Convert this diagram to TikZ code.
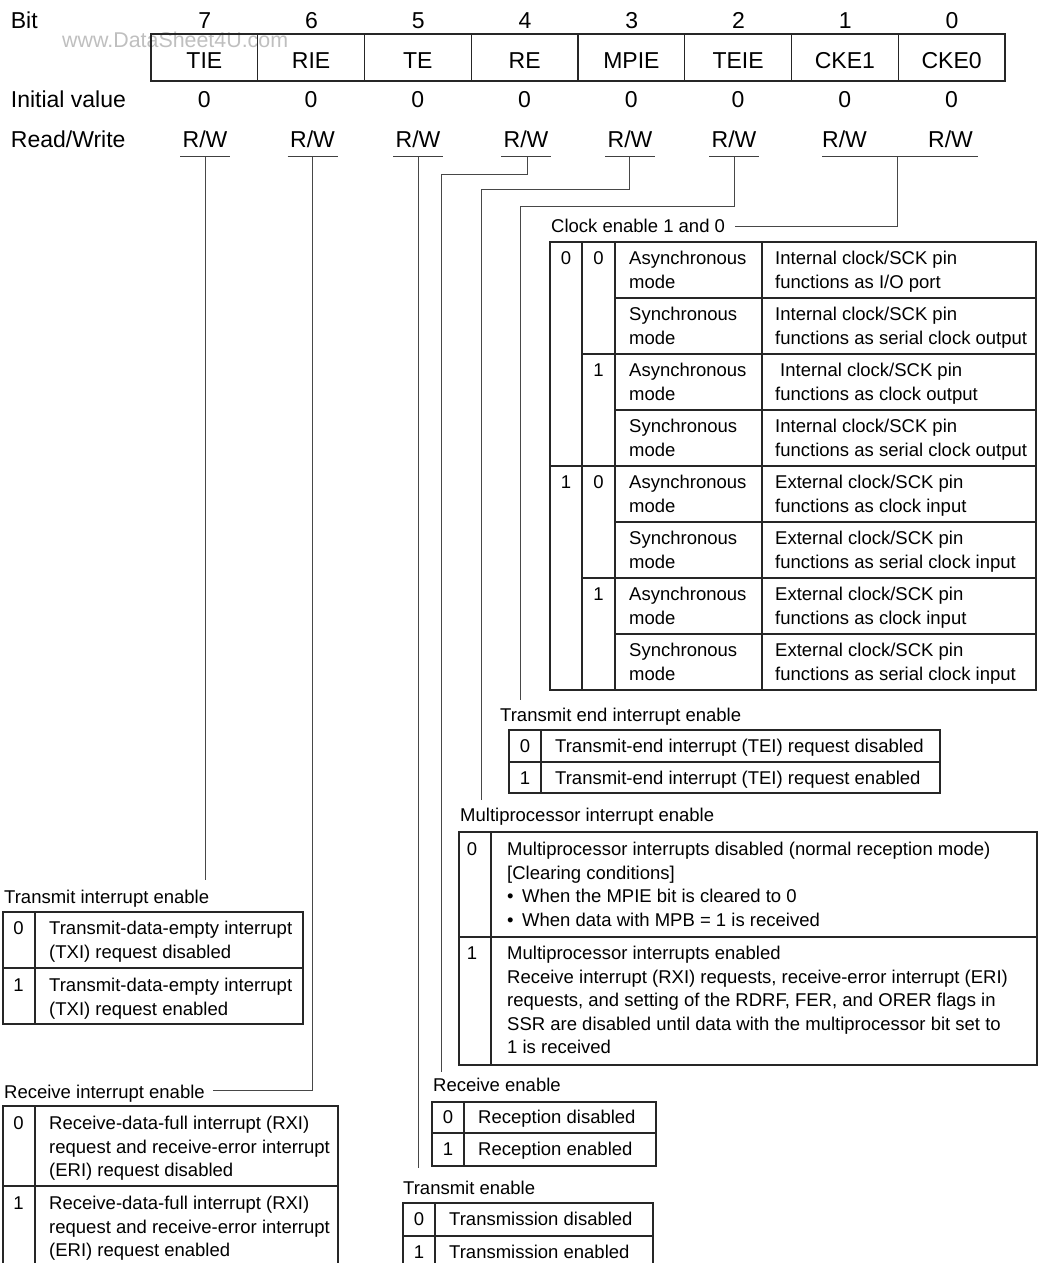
\documentclass[tikz,border=0pt]{standalone}
\usepackage{fontspec}
\setmainfont{Liberation Sans}
\newcommand\myst{\rule{0pt}{16pt}}
\newcommand\mybul{\makebox[15pt][l]{\textbullet}}
\begin{document}
\begin{tikzpicture}[x=1pt,y=-1pt,
  hdr/.style={inner sep=0pt, anchor=base, font=\fontsize{23}{27}\selectfont},
  hdrl/.style={inner sep=0pt, anchor=base west, font=\fontsize{23}{27}\selectfont},
  fieldbox/.style={draw=black!85, line width=1.1pt, minimum width=106.75pt, minimum height=47pt, inner sep=0pt},
  ttl/.style={inner sep=0pt, anchor=base west, font=\fontsize{18.5}{23.5}\selectfont},
  cell/.style={inner sep=0pt, anchor=north west, align=left, font=\fontsize{18.5}{23.5}\selectfont},
  dig/.style={inner sep=0pt, anchor=north, font=\fontsize{18.5}{23.5}\selectfont},
  tab/.style={draw=black!85, line width=1.1pt},
  ul/.style={draw=black!75, line width=1pt},
  conn/.style={draw=black!72, line width=1pt},
]
\useasboundingbox (0,0) rectangle (1044,1263);

% watermark
\node[inner sep=0pt, anchor=base west, font=\fontsize{21.4}{24}\selectfont, text=black!25] (wm) at (62,47.7) {www.DataSheet4U.com};

% register header
\node[hdrl] (bitl) at (10.7,28.2) {Bit};
\node[hdrl] (initl) at (10.7,107.2) {Initial value};
\node[hdrl] (rwl) at (10.7,147.2) {Read/Write};
\foreach \k/\nm in {7/TIE,6/RIE,5/TE,4/RE,3/MPIE,2/TEIE,1/CKE1,0/CKE0} {
  \pgfmathsetmacro\cx{151+106.75*(7-\k)+53.375}
  \node[fieldbox] (f\k) at (\cx,57.5) {};
  \node[hdr] (n\k) at (\cx,68.2) {\nm};
  \node[hdr] (b\k) at (\cx+0.5,28.2) {\k};
  \node[hdr] (i\k) at (\cx,107.2) {0};
}
\foreach \k/\cx in {7/205,6/312.5,5/418,4/526,3/630,2/734,1/844.5,0/950.5}
  \node[hdr] (rw\k) at (\cx,147.2) {R/W};
\foreach \cx in {205,312.5,418,526,630,734}
  \draw[ul] (\cx-25,156) -- (\cx+25,156);
\draw[ul] (822,156) -- (978,156);

% connectors
\coordinate (c7) at (205,156.5);  \coordinate (e7) at (205,880);
\coordinate (c6) at (312.5,156.5); \coordinate (e6) at (213,1090);
\coordinate (c5) at (418,156.5);  \coordinate (e5) at (418,1168);
\coordinate (c4) at (527,156.5);  \coordinate (e4) at (441,1072);
\coordinate (c3) at (629.5,156.5); \coordinate (e3) at (481,800);
\coordinate (c2) at (734,156.5);  \coordinate (e2) at (520,700);
\coordinate (c10) at (897,156.5); \coordinate (e10) at (735,226);
\draw[conn] (c7) -- (e7);
\draw[conn] (c6) |- (e6);
\draw[conn] (c5) -- (e5);
\draw[conn] (c4) -- ++(0,18) -| (e4);
\draw[conn] (c3) -- ++(0,32.5) -| (e3);
\draw[conn] (c2) -- ++(0,49.5) -| (e2);
\draw[conn] (c10) |- (e10);

% ---- Clock enable table ----
\node[ttl] (cketl) at (551,232.6) {Clock enable 1 and 0};
\draw[tab] (550,242) rectangle (1036,690);
\draw[tab] (582,242) -- (582,690) (615,242) -- (615,690) (762,242) -- (762,690);
\draw[tab] (550,466) -- (1036,466);
\draw[tab] (582,354) -- (1036,354) (582,578) -- (1036,578);
\foreach \yy in {298,410,522,634} \draw[tab] (615,\yy) -- (1036,\yy);
\node[dig] (ckd1a) at (566,248.6) {\myst 0};
\node[dig] (ckd1b) at (566,472.6) {\myst 1};
\node[dig] (ckd0a) at (598.5,248.6) {\myst 0};
\node[dig] (ckd0b) at (598.5,360.6) {\myst 1};
\node[dig] (ckd0c) at (598.5,472.6) {\myst 0};
\node[dig] (ckd0d) at (598.5,584.6) {\myst 1};
\node[cell] (ckm0) at (629,248.6) {\myst Asynchronous\\mode};
\node[cell] (ckm1) at (629,304.6) {\myst Synchronous\\mode};
\node[cell] (ckm2) at (629,360.6) {\myst Asynchronous\\mode};
\node[cell] (ckm3) at (629,416.6) {\myst Synchronous\\mode};
\node[cell] (ckm4) at (629,472.6) {\myst Asynchronous\\mode};
\node[cell] (ckm5) at (629,528.6) {\myst Synchronous\\mode};
\node[cell] (ckm6) at (629,584.6) {\myst Asynchronous\\mode};
\node[cell] (ckm7) at (629,640.6) {\myst Synchronous\\mode};
\node[cell] (ckf0) at (775,248.6) {\myst Internal clock/SCK pin\\functions as I/O port};
\node[cell] (ckf1) at (775,304.6) {\myst Internal clock/SCK pin\\functions as serial clock output};
\node[cell] (ckf2) at (775,360.6) {\myst\hspace*{5pt}Internal clock/SCK pin\\functions as clock output};
\node[cell] (ckf3) at (775,416.6) {\myst Internal clock/SCK pin\\functions as serial clock output};
\node[cell] (ckf4) at (775,472.6) {\myst External clock/SCK pin\\functions as clock input};
\node[cell] (ckf5) at (775,528.6) {\myst External clock/SCK pin\\functions as serial clock input};
\node[cell] (ckf6) at (775,584.6) {\myst External clock/SCK pin\\functions as clock input};
\node[cell] (ckf7) at (775,640.6) {\myst External clock/SCK pin\\functions as serial clock input};

% ---- Transmit end interrupt enable ----
\node[ttl] (teitl) at (500,721.6) {Transmit end interrupt enable};
\draw[tab] (509,730) rectangle (940,793);
\draw[tab] (541,730) -- (541,793) (509,762) -- (940,762);
\node[dig] (teid0) at (525,736.6) {\myst 0};
\node[dig] (teid1) at (525,768.6) {\myst 1};
\node[cell] (teit0) at (555,736.6) {\myst Transmit-end interrupt (TEI) request disabled};
\node[cell] (teit1) at (555,768.6) {\myst Transmit-end interrupt (TEI) request enabled};

% ---- Multiprocessor interrupt enable ----
\node[ttl] (mptl) at (460,821.6) {Multiprocessor interrupt enable};
\draw[tab] (459,832) rectangle (1037,1065);
\draw[tab] (491,832) -- (491,1065) (459,937) -- (1037,937);
\node[dig] (mpd0) at (472,839.6) {\myst 0};
\node[dig] (mpd1) at (472,943.6) {\myst 1};
\node[cell] (mpt0) at (507,839.6) {\myst Multiprocessor interrupts disabled (normal reception mode)\\{[Clearing conditions]}\\\mybul When the MPIE bit is cleared to 0\\\mybul When data with MPB = 1 is received};
\node[cell] (mpt1) at (507,943.6) {\myst Multiprocessor interrupts enabled\\Receive interrupt (RXI) requests, receive-error interrupt (ERI)\\requests, and setting of the RDRF, FER, and ORER flags in\\SSR are disabled until data with the multiprocessor bit set to\\1 is received};

% ---- Transmit interrupt enable ----
\node[ttl] (tietl) at (4,903.6) {Transmit interrupt enable};
\draw[tab] (3,912) rectangle (303,1024);
\draw[tab] (35,912) -- (35,1024) (3,968) -- (303,968);
\node[dig] (tied0) at (18.5,918.6) {\myst 0};
\node[dig] (tied1) at (18.5,975.6) {\myst 1};
\node[cell] (tiet0) at (49,918.6) {\myst Transmit-data-empty interrupt\\(TXI) request disabled};
\node[cell] (tiet1) at (49,975.6) {\myst Transmit-data-empty interrupt\\(TXI) request enabled};

% ---- Receive interrupt enable ----
\node[ttl] (rietl) at (4,1098.6) {Receive interrupt enable};
\draw[tab] (3,1106) rectangle (338,1268);
\draw[tab] (35,1106) -- (35,1268) (3,1186) -- (338,1186);
\node[dig] (ried0) at (18.5,1113.6) {\myst 0};
\node[dig] (ried1) at (18.5,1193.6) {\myst 1};
\node[cell] (riet0) at (49,1113.6) {\myst Receive-data-full interrupt (RXI)\\request and receive-error interrupt\\(ERI) request disabled};
\node[cell] (riet1) at (49,1193.6) {\myst Receive-data-full interrupt (RXI)\\request and receive-error interrupt\\(ERI) request enabled};

% ---- Receive enable ----
\node[ttl] (retl) at (433,1091.6) {Receive enable};
\draw[tab] (432,1102) rectangle (656,1166);
\draw[tab] (464,1102) -- (464,1166) (432,1133) -- (656,1133);
\node[dig] (red0) at (448,1107.6) {\myst 0};
\node[dig] (red1) at (448,1139.6) {\myst 1};
\node[cell] (ret0) at (478,1107.6) {\myst Reception disabled};
\node[cell] (ret1) at (478,1139.6) {\myst Reception enabled};

% ---- Transmit enable ----
\node[ttl] (tetl) at (403,1194.6) {Transmit enable};
\draw[tab] (403,1203) rectangle (653,1268);
\draw[tab] (435,1203) -- (435,1268) (403,1236) -- (653,1236);
\node[dig] (ted0) at (419,1209.6) {\myst 0};
\node[dig] (ted1) at (419,1242.6) {\myst 1};
\node[cell] (tet0) at (449,1209.6) {\myst Transmission disabled};
\node[cell] (tet1) at (449,1242.6) {\myst Transmission enabled};
\end{tikzpicture}
\end{document}
